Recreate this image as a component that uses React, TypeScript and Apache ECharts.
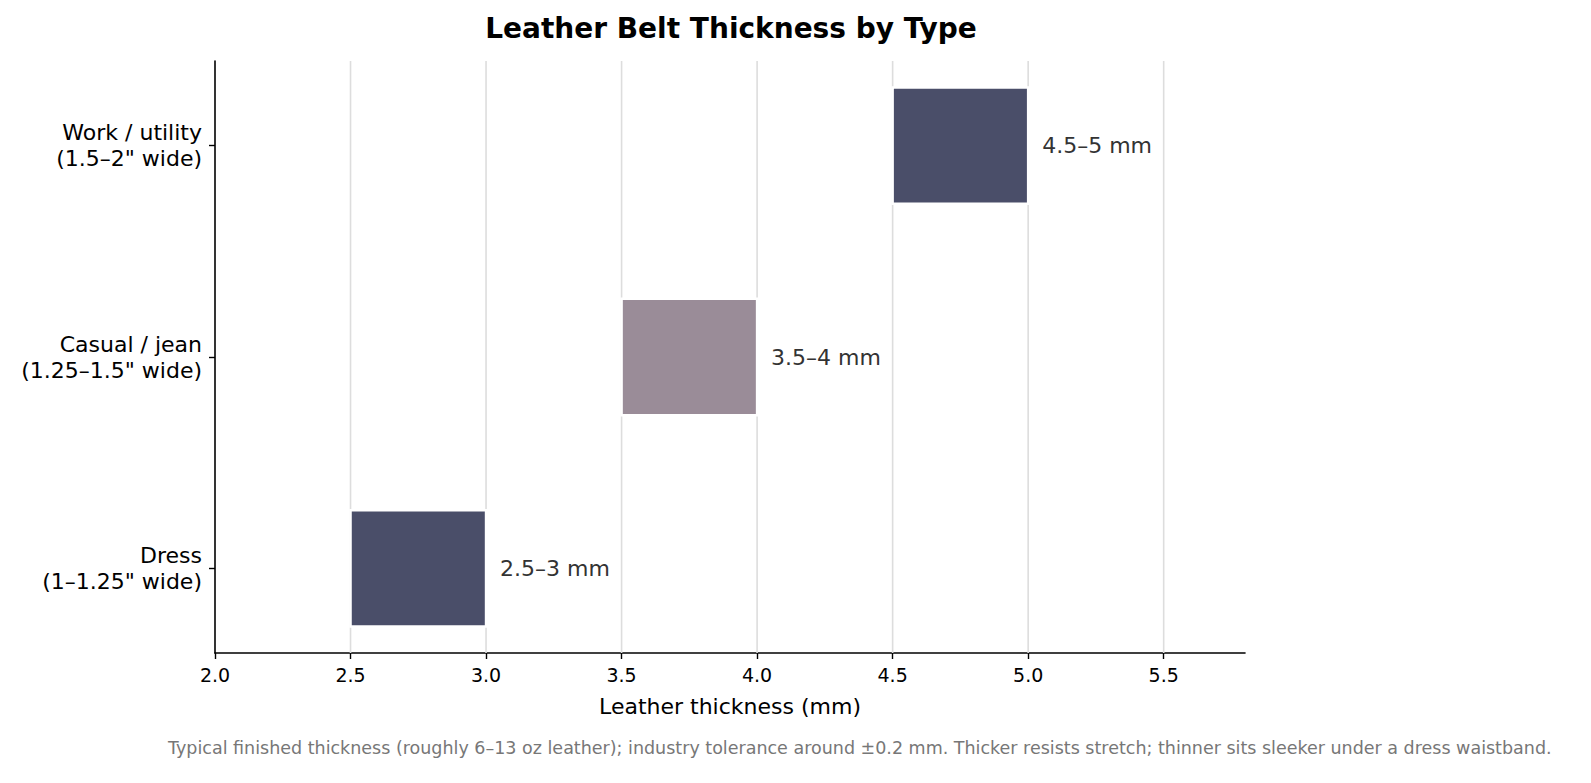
import React, { useEffect, useRef } from "react";
import * as echarts from "echarts";

// Belt types, bottom to top (y index 0, 1, 2)
const categories = [
  "Dress\n(1–1.25\" wide)",
  "Casual / jean\n(1.25–1.5\" wide)",
  "Work / utility\n(1.5–2\" wide)",
];
const lowValues = [2.5, 3.5, 4.5];
const highValues = [3.0, 4.0, 5.0];
const rangeLabels = ["2.5–3 mm", "3.5–4 mm", "4.5–5 mm"];
const barColors = ["#4a4e69", "#9a8c98", "#4a4e69"];
const xTicks = [2.0, 2.5, 3.0, 3.5, 4.0, 4.5, 5.0, 5.5];
const gridTicks = [2.5, 3.0, 3.5, 4.0, 4.5, 5.0, 5.5];

const FONT = "DejaVu Sans, sans-serif";

export default function App() {
  const chartRef = useRef<HTMLDivElement>(null);

  useEffect(() => {
    if (!chartRef.current) return;
    document.body.style.margin = "0";
    const chart = echarts.init(chartRef.current, undefined, { renderer: "svg" });

    const option: any = {
      animation: false,
      backgroundColor: "#ffffff",
      grid: { left: 215, right: 346, top: 61, bottom: 130, containLabel: false },
      graphic: [
        {
          type: "text",
          x: 731,
          y: 28,
          style: {
            text: "Leather Belt Thickness by Type",
            font: `bold 28px ${FONT}`,
            fill: "#000",
            align: "center",
            verticalAlign: "middle",
          },
        },
        {
          type: "text",
          x: 168,
          y: 748,
          style: {
            text:
              "Typical finished thickness (roughly 6–13 oz leather); industry tolerance around ±0.2 mm. Thicker resists stretch; thinner sits sleeker under a dress waistband.",
            font: `17.5px ${FONT}`,
            fill: "#777777",
            align: "left",
            verticalAlign: "middle",
          },
        },
      ],
      xAxis: {
        type: "value",
        min: 2.0,
        max: 5.8,
        name: "Leather thickness (mm)",
        nameLocation: "middle",
        nameGap: 42,
        nameTextStyle: { fontFamily: FONT, fontSize: 22, color: "#000" },
        axisLine: { show: true, onZero: false, lineStyle: { color: "#000", width: 1.6 } },
        axisTick: {
          show: true,
          length: 6,
          customValues: xTicks,
          lineStyle: { color: "#000", width: 1.4 },
        },
        axisLabel: {
          customValues: xTicks,
          formatter: (v: number) => v.toFixed(1),
          fontFamily: FONT,
          fontSize: 19,
          color: "#000",
          margin: 12,
        },
        splitLine: { show: false },
      },
      yAxis: {
        type: "value",
        min: -0.4,
        max: 2.4,
        axisLine: { show: true, onZero: false, lineStyle: { color: "#000", width: 1.6 } },
        axisTick: {
          show: true,
          length: 6,
          customValues: [0, 1, 2],
          lineStyle: { color: "#000", width: 1.4 },
        },
        axisLabel: {
          customValues: [0, 1, 2],
          formatter: (v: number) => categories[Math.round(v)] ?? "",
          fontFamily: FONT,
          fontSize: 22,
          lineHeight: 26,
          color: "#000",
          align: "right",
          margin: 13,
        },
        splitLine: { show: false },
      },
      series: [
        {
          type: "custom",
          name: "grid",
          silent: true,
          z: 1,
          data: gridTicks.map((v) => [v]),
          renderItem: (params: any, api: any) => {
            const v = api.value(0);
            const top = api.coord([v, 2.4]);
            const bottom = api.coord([v, -0.4]);
            return {
              type: "line",
              shape: { x1: top[0], y1: top[1], x2: bottom[0], y2: bottom[1] },
              style: { stroke: "#dddddd", lineWidth: 1.6 },
            };
          },
        },
        {
          type: "custom",
          name: "thickness",
          z: 3,
          data: categories.map((_, i) => [lowValues[i], highValues[i], i]),
          renderItem: (params: any, api: any) => {
            const idx = params.dataIndex;
            const lo = api.value(0);
            const hi = api.value(1);
            const y = api.value(2);
            const p0 = api.coord([lo, y]);
            const p1 = api.coord([hi, y]);
            const h = api.size([0, 0.55])[1];
            return {
              type: "group",
              children: [
                {
                  type: "rect",
                  shape: { x: p0[0], y: p0[1] - h / 2, width: p1[0] - p0[0], height: h },
                  style: { fill: barColors[idx], stroke: "#ffffff", lineWidth: 2.5 },
                },
                {
                  type: "text",
                  x: p1[0] + 14,
                  y: p1[1],
                  style: {
                    text: rangeLabels[idx],
                    font: `22px ${FONT}`,
                    fill: "#333333",
                    align: "left",
                    verticalAlign: "middle",
                  },
                },
              ],
            };
          },
        },
      ],
    };

    chart.setOption(option);
    return () => {
      chart.dispose();
    };
  }, []);

  return (
    <div
      ref={chartRef}
      style={{ position: "absolute", left: 0, top: 0, width: 1591, height: 783 }}
    />
  );
}
